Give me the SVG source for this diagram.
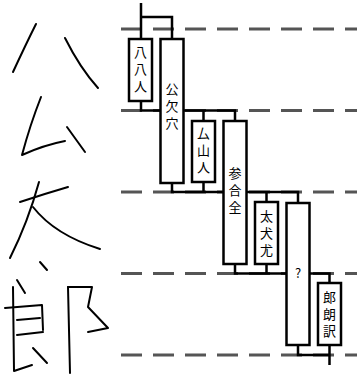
<svg xmlns="http://www.w3.org/2000/svg" width="357" height="376" viewBox="0 0 357 376">
<style>
.lvl{stroke:#555;stroke-width:3;stroke-dasharray:21 11;fill:none}
.con{stroke:#000;stroke-width:2.5;fill:none}
.box{fill:#fff;stroke:#000;stroke-width:2.5}
.t{font-family:"Noto Sans CJK JP","Noto Sans CJK SC",sans-serif;font-size:13px;text-anchor:middle;fill:#000}
.v{writing-mode:vertical-rl;text-orientation:upright;letter-spacing:4px}
.hw{stroke:#000;stroke-width:2;fill:none;stroke-linecap:round;stroke-linejoin:round}
</style>
<rect width="357" height="376" fill="#fff"/>
<g id="handwriting">
<path class="hw" d="M36,24 Q26,44 13,72"/>
<path class="hw" d="M65,38 Q80,68 98,88"/>
<path class="hw" d="M41,97 Q30,125 22,155 Q44,145 65,141"/>
<path class="hw" d="M67,127 L85,152"/>
<path class="hw" d="M20,202 Q44,194 68,187"/>
<path class="hw" d="M39,182 Q28,222 10,258"/>
<path class="hw" d="M33,207 Q55,235 100,249"/>
<path class="hw" d="M40,262 L47,270"/>
<path class="hw" d="M17,280 L25,293"/>
<path class="hw" d="M5,308 L42,305 L43,330"/>
<path class="hw" d="M13,287 L14,371 L32,365"/>
<path class="hw" d="M17,320 L40,318"/>
<path class="hw" d="M17,335 L43,332"/>
<path class="hw" d="M33,348 L47,363"/>
<path class="hw" d="M68,287 L70,373"/>
<path class="hw" d="M68,287 L92,287 L88,307 L108,328 L88,332"/>
</g>
<g id="levels">
<line class="lvl" x1="121" y1="29" x2="357" y2="29"/>
<line class="lvl" x1="121" y1="110.5" x2="357" y2="110.5"/>
<line class="lvl" x1="121" y1="192" x2="357" y2="192"/>
<line class="lvl" x1="121" y1="273.5" x2="357" y2="273.5"/>
<line class="lvl" x1="121" y1="355" x2="357" y2="355"/>
</g>
<g id="connectors">
<path class="con" d="M141,3 V39 M141,17 H172 V39"/>
<path class="con" d="M141,101 V110.5 H235 V121 M203.5,110.5 V121"/>
<path class="con" d="M172,183 V192 H298 V203 M203.5,182 V192 M266.5,192 V202"/>
<path class="con" d="M235,264 V273.5 H329.5 V283 M266.5,264 V273.5"/>
<path class="con" d="M298,345 V355 H329.5 M329.5,345 V365"/>
</g>
<g id="n1"><rect class="box" x="129" y="39" width="23" height="62"/><text class="t v" x="140.5" y="71">八八人</text></g>
<g id="n2"><rect class="box" x="160.5" y="39" width="23" height="144"/><text class="t v" x="172" y="108">公欠穴</text></g>
<g id="n3"><rect class="box" x="192" y="121" width="23" height="61"/><text class="t v" x="203.5" y="152">厶山人</text></g>
<g id="n4"><rect class="box" x="223.5" y="121" width="23" height="143"/><text class="t v" x="235" y="192">参合全</text></g>
<g id="n5"><rect class="box" x="255" y="202" width="23" height="62"/><text class="t v" x="266.5" y="235">太犬尤</text></g>
<g id="n6"><rect class="box" x="286.5" y="203" width="23" height="142"/><text class="t" x="298" y="277.5">?</text></g>
<g id="n7"><rect class="box" x="318" y="283" width="23" height="62"/><text class="t v" x="329.5" y="316">郎朗訳</text></g>
</svg>
